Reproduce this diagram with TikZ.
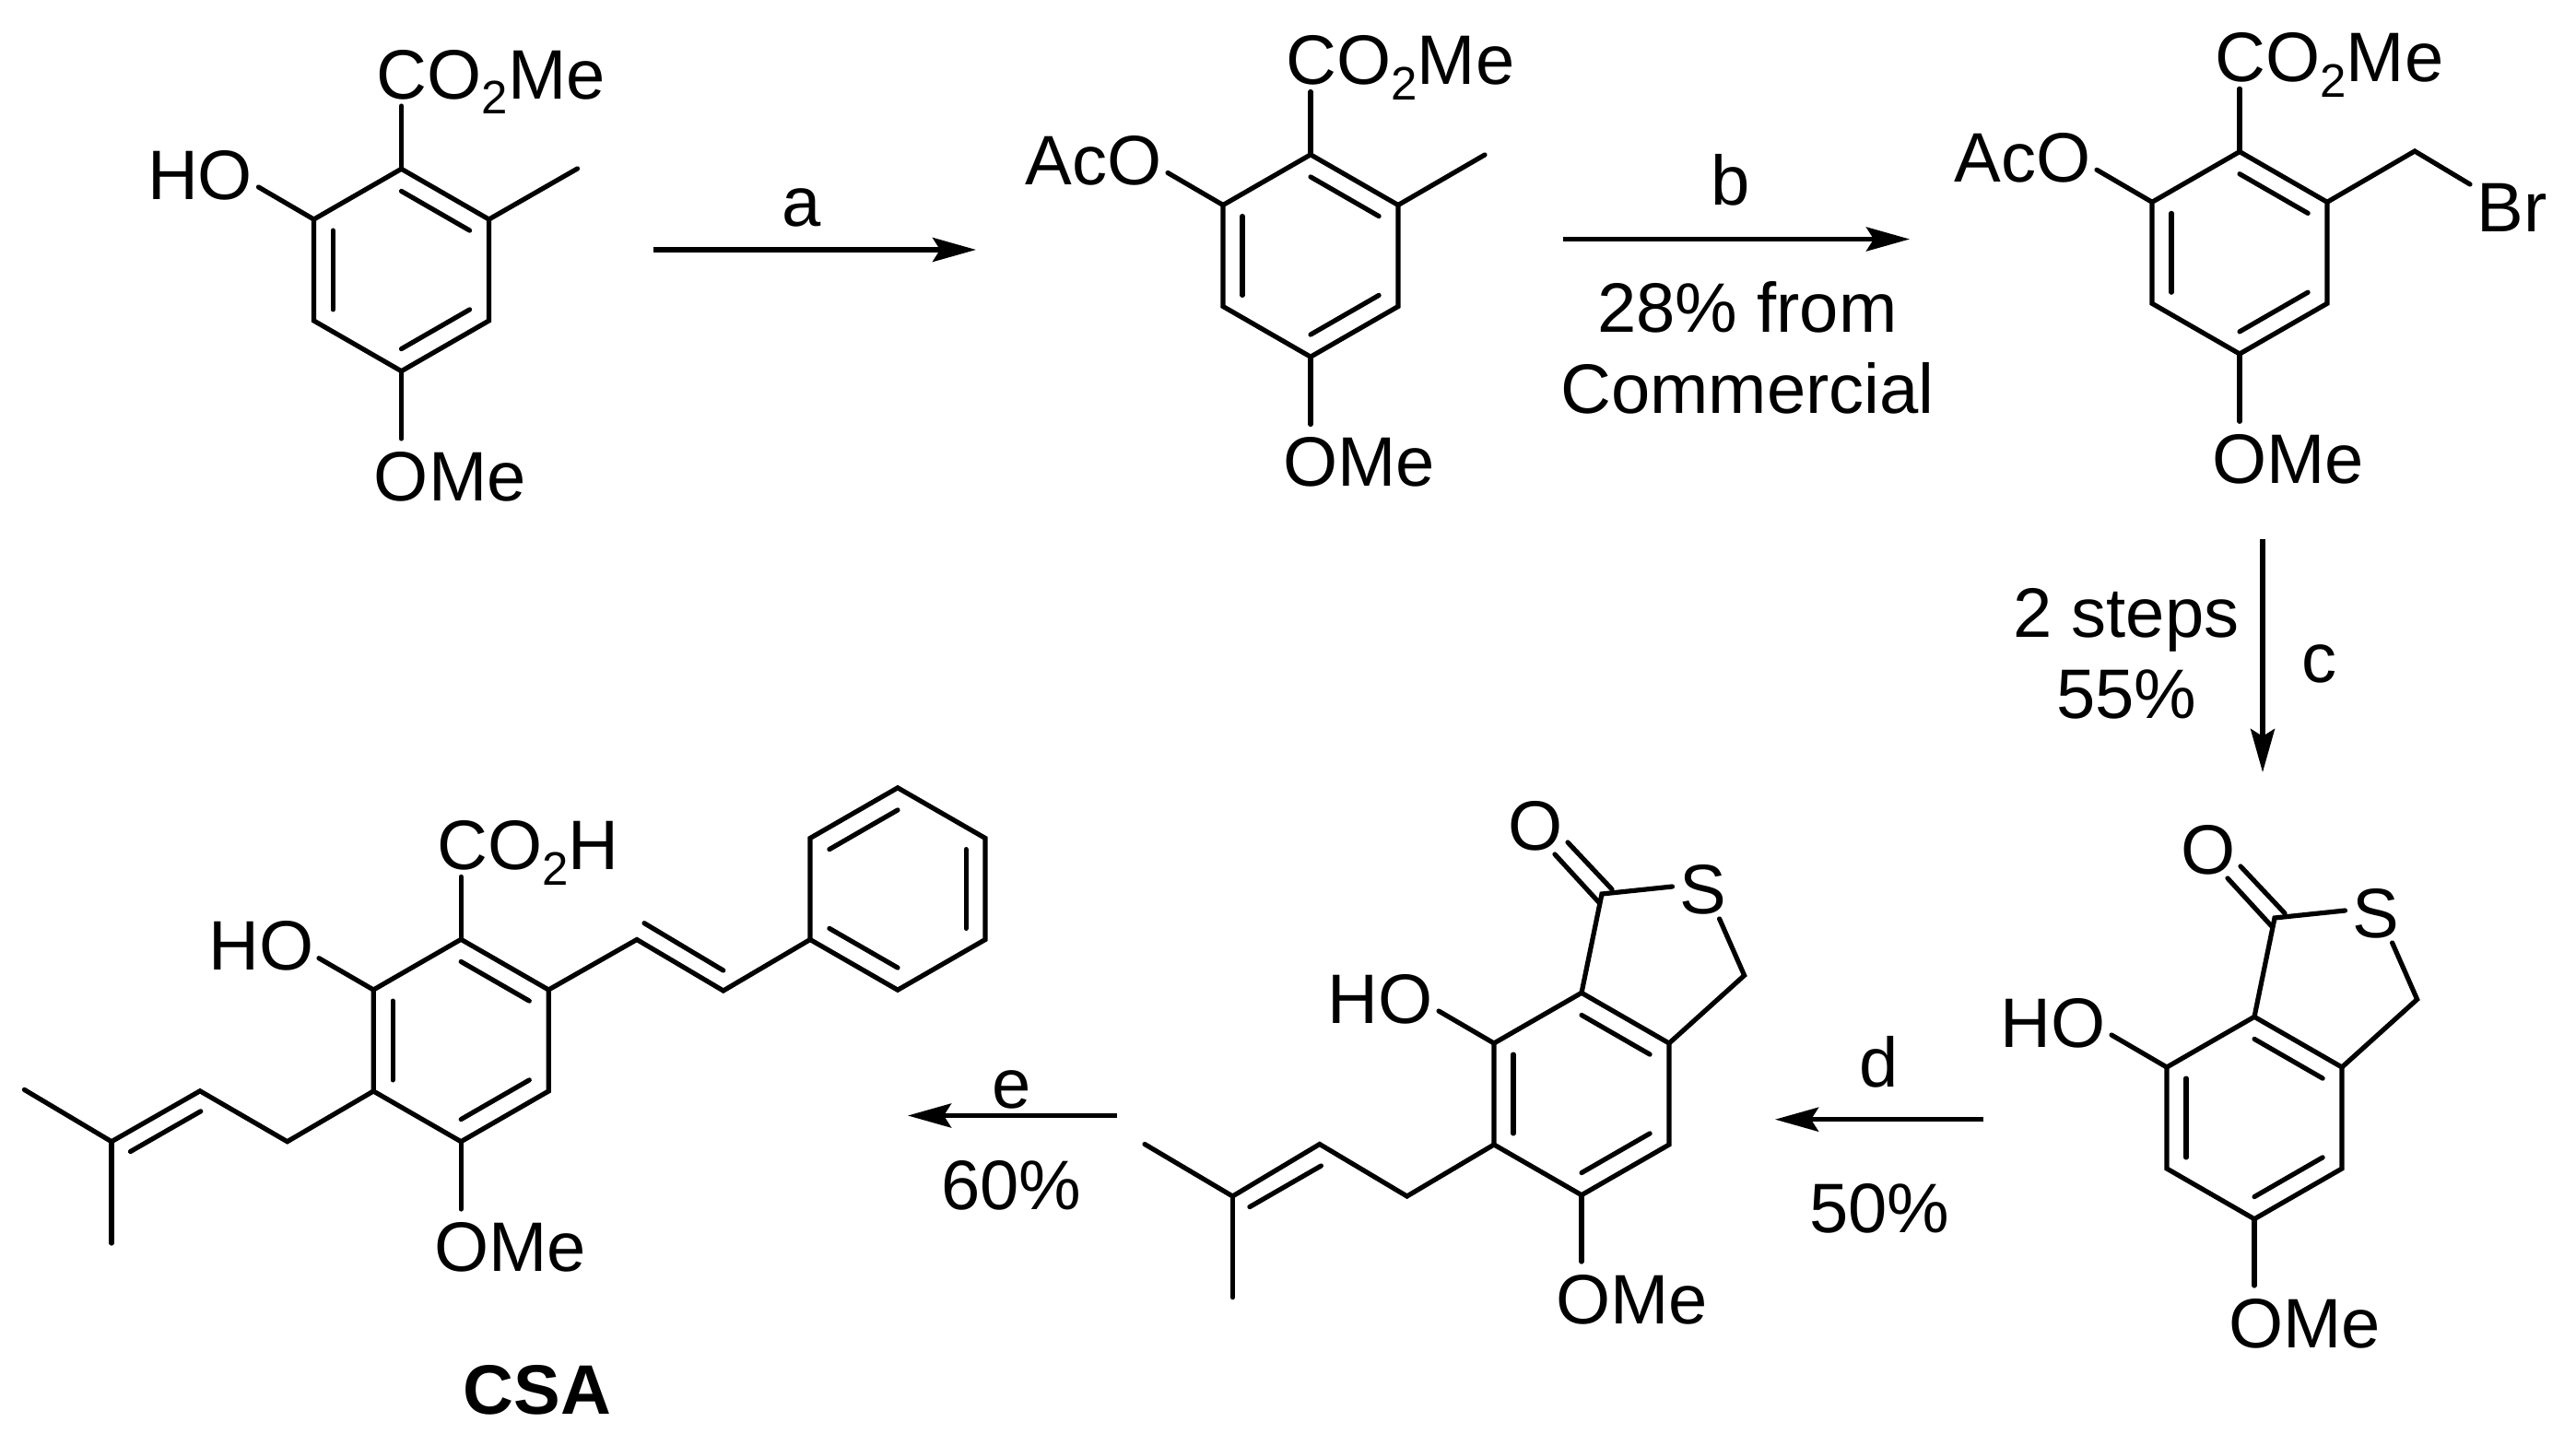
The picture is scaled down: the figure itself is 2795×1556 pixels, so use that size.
\documentclass[tikz,border=0pt]{standalone}
\usepackage{fontspec}
\setmainfont{Liberation Sans}
\usetikzlibrary{calc}
\usetikzlibrary{arrows.meta}
\newcommand{\chemfont}{\fontsize{38}{44}\selectfont}
\newcommand{\subtwo}{\raisebox{-8.3pt}{\fontsize{25.5}{25}\selectfont 2}}
\tikzset{
    bond/.style={line width=2.6pt, line cap=round},
    rxn/.style={line width=2.6pt, -{Stealth[length=23.5pt,width=13pt,inset=4pt]}},
    txt/.style={anchor=base west, inner sep=0pt, font=\chemfont, yshift=-1.2pt},
    mid/.style={anchor=base, inner sep=0pt, font=\chemfont, yshift=-1.2pt},
    eastlbl/.style={anchor=base east, inner sep=0pt, font=\chemfont, yshift=-1.2pt}
}
\newcommand{\arene}[3]{ % Takes ring name, centre x, centre y; names the six corners
    \coordinate (#1c) at (#2,#3);
    \coordinate (#1t) at (#2,{#3-109.7});
    \coordinate (#1ur) at ({#2+95},{#3-55});
    \coordinate (#1lr) at ({#2+95},{#3+55});
    \coordinate (#1b) at (#2,{#3+109.7});
    \coordinate (#1ll) at ({#2-95},{#3+55});
    \coordinate (#1ul) at ({#2-95},{#3-55});
    \draw[bond] (#1t) -- (#1ur) -- (#1lr) -- (#1b) -- (#1ll) -- (#1ul) -- cycle;
}
\newcommand{\innerbond}[3]{ % Takes ring name and two corners
    \draw[bond] ($(#1c)!.78!(#1#2)$) -- ($(#1c)!.78!(#1#3)$);
}
\newcommand{\threedouble}[1]{
    \innerbond{#1}{t}{ur}
    \innerbond{#1}{ul}{ll}
    \innerbond{#1}{b}{lr}
}
\newcommand{\ester}[4]{ % Takes ring name, centre x, centre y, text at the ring's left
    \arene{#1}{#2}{#3}
    \threedouble{#1}
    \node[txt] (#1co) at ({#2-27},{#3-188}) {CO\subtwo Me};
    \node[txt] (#1ome) at ({#2-30},{#3+248}) {OMe};
    \node[eastlbl] (#1oh) at ({#2-161},{#3-79}) {#4};
    \coordinate (#1cotop) at (#2,{#3-178});
    \coordinate (#1omeend) at (#2,{#3+183});
    \coordinate (#1ohend) at ({#2-155},{#3-90});
    \draw[bond] (#1t) -- (#1cotop);
    \draw[bond] (#1b) -- (#1omeend);
    \draw[bond] (#1ul) -- (#1ohend);
}
\newcommand{\thiolactone}[3]{ % Takes ring name, centre x, centre y
    \arene{#1}{#2}{#3}
    \threedouble{#1}
    \node[mid,anchor=center] (#1o) at ({#2-50},{#3-293}) {O};
    \node[mid,anchor=center] (#1s) at ({#2+132},{#3-224}) {S};
    \node[eastlbl] (#1oh) at ({#2-161},{#3-79.4}) {HO};
    \node[txt] (#1ome) at ({#2-28},{#3+247.5}) {OMe};
    \coordinate (#1co) at ({#2+22},{#3-217});
    \coordinate (#1sin) at ({#2+98.5},{#3-225});
    \coordinate (#1sout) at ({#2+149.6},{#3-190});
    \coordinate (#1ch) at ({#2+176.6},{#3-128.6});
    \coordinate (#1dba) at ({#2-29},{#3-260});
    \coordinate (#1dbb) at ({#2+19.6},{#3-207});
    \coordinate (#1dbc) at ({#2-15},{#3-273});
    \coordinate (#1dbd) at ({#2+33},{#3-222});
    \coordinate (#1ohend) at ({#2-155},{#3-90});
    \coordinate (#1omeend) at (#2,{#3+182});
    \draw[bond] (#1t) -- (#1co) -- (#1sin);
    \draw[bond] (#1sout) -- (#1ch) -- (#1ur);
    \draw[bond] (#1dba) -- (#1dbb);
    \draw[bond] (#1dbc) -- (#1dbd);
    \draw[bond] (#1ul) -- (#1ohend);
    \draw[bond] (#1b) -- (#1omeend);
}

\begin{document}
\begin{tikzpicture}[x=0.5pt,y=-0.5pt]
    \useasboundingbox (0,0) rectangle (2795,1556);

    % Top row
    \ester{ra}{435.5}{293}{HO}
    \coordinate (rame) at (626.5,183);
    \draw[bond] (raur) -- (rame);

    \ester{rb}{1422}{277.5}{AcO}
    \coordinate (rbme) at (1611,168);
    \draw[bond] (rbur) -- (rbme);

    \ester{rc}{2430}{274.3}{AcO}
    \coordinate (rcch) at (2620,164);
    \coordinate (rcbr) at (2680,200);
    \node[txt] (brlabel) at (2687,249) {Br};
    \draw[bond] (rcur) -- (rcch) -- (rcbr);

    % Lactones, right to left
    \thiolactone{ld}{2446}{1213}
    \thiolactone{le}{1716}{1187}
    \coordinate (lea) at (1526.6,1298);
    \coordinate (leb) at (1431.8,1241.5);
    \coordinate (lec) at (1337.4,1298);
    \coordinate (led) at (1242,1241.5);
    \coordinate (lee) at (1337.4,1407.7);
    \coordinate (lef) at (1355.9,1309.6);
    \coordinate (leg) at (1433.4,1265);
    \draw[bond] (lell) -- (lea) -- (leb) -- (lec) -- (led);
    \draw[bond] (lec) -- (lee);
    \draw[bond] (lef) -- (leg);

    % Final acid
    \arene{rf}{500.2}{1129}
    \threedouble{rf}
    \node[txt] (rfco) at (474,941) {CO\subtwo H};
    \node[eastlbl] (rfoh) at (340.6,1050) {HO};
    \node[txt] (rfome) at (471,1377) {OMe};
    \node[mid,font=\chemfont\bfseries] (csa) at (583,1532.5) {CSA};
    \coordinate (rfcotop) at (500.2,951.4);
    \coordinate (rfohend) at (346,1039.7);
    \coordinate (rfomeend) at (500.2,1312);
    \draw[bond] (rft) -- (rfcotop);
    \draw[bond] (rful) -- (rfohend);
    \draw[bond] (rfb) -- (rfomeend);
    \coordinate (sta) at (691,1019.5);
    \coordinate (stb) at (784.8,1075);
    \coordinate (stc) at (699,1001.7);
    \coordinate (std) at (784.8,1053);
    \arene{ph}{974}{964.5}
    \draw[bond] (rfur) -- (sta) -- (stb) -- (phll);
    \draw[bond] (stc) -- (std);
    \innerbond{ph}{ll}{b}
    \innerbond{ph}{ur}{lr}
    \innerbond{ph}{ul}{t}
    \coordinate (pra) at (311.7,1238.7);
    \coordinate (prb) at (217,1183.8);
    \coordinate (prc) at (121,1238.7);
    \coordinate (prd) at (26.4,1182.4);
    \coordinate (pre) at (121,1349);
    \coordinate (prf) at (141.5,1249.5);
    \coordinate (prg) at (217.8,1205.8);
    \draw[bond] (rfll) -- (pra) -- (prb) -- (prc) -- (prd);
    \draw[bond] (prc) -- (pre);
    \draw[bond] (prf) -- (prg);

    % Arrows
    \coordinate (aa) at (708.5,271);
    \coordinate (ab) at (1059,271);
    \draw[rxn] (aa) -- (ab);
    \node[mid] (la) at (870,243) {a};

    \coordinate (ba) at (1696,259.5);
    \coordinate (bb) at (2072,259.5);
    \draw[rxn] (ba) -- (bb);
    \node[mid] (lb) at (1878,220) {b};
    \node[txt] (lyb) at (1733,358.6) {28\% from};
    \node[txt] (lfrom) at (1693,446) {Commercial};

    \coordinate (ca) at (2455,585);
    \coordinate (cb) at (2455,838);
    \draw[rxn] (ca) -- (cb);
    \node[txt] (lsteps) at (2184,689) {2 steps};
    \node[txt] (lyc) at (2231,777) {55\%};
    \node[mid] (lc) at (2516,738) {c};

    \coordinate (da) at (2151.6,1214.7);
    \coordinate (db) at (1926,1214.7);
    \draw[rxn] (da) -- (db);
    \node[mid] (ld) at (2038.5,1177.5) {d};
    \node[txt] (lyd) at (1963,1335) {50\%};

    \coordinate (ea) at (1212,1210.5);
    \coordinate (eb) at (985,1210.5);
    \draw[rxn] (ea) -- (eb);
    \node[mid] (le) at (1098,1200) {e};
    \node[txt] (lye) at (1021,1310.5) {60\%};
\end{tikzpicture}
\end{document}
